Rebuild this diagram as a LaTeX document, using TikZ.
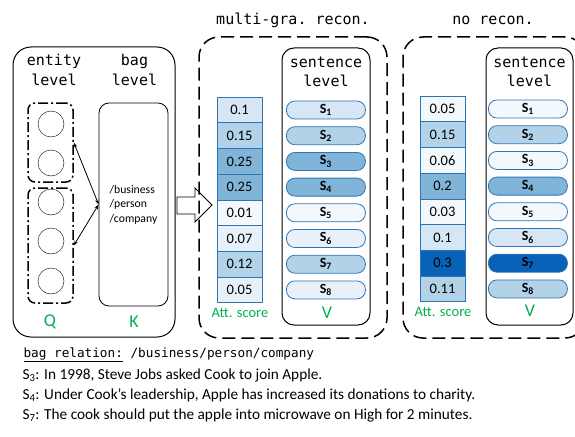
\documentclass[tikz,border=0pt]{standalone}
\usepackage{fontspec}
\setmainfont{Carlito}
\setmonofont{DejaVu Sans Mono}
\usepackage{tikz}
\usetikzlibrary{positioning}
\usetikzlibrary{arrows.meta}
\definecolor{green}{HTML}{00B050}
\definecolor{edge}{HTML}{2E75B6}
\definecolor{att0}{HTML}{F3F8FD}
\definecolor{att1}{HTML}{E8F1FA}
\definecolor{att2}{HTML}{D6E6F4}
\definecolor{att3}{HTML}{B2D2E8}
\definecolor{att4}{HTML}{80B5D9}
\definecolor{att5}{HTML}{0A62B8}

\begin{document}
\begin{tikzpicture}[x=1pt,y=-1pt]
      \tikzstyle cell=[draw=edge, line width=0.8pt, minimum width=45pt,
      minimum height=25.7pt, inner sep=0pt, outer sep=0pt,
      font=\fontsize{14.5}{16}\selectfont]
      \tikzstyle pill=[draw=edge, line width=0.8pt, rounded corners=8.5pt,
      minimum width=79pt, minimum height=18pt, inner sep=0pt,
      font=\fontsize{14}{14}\bfseries\selectfont]
      \tikzstyle mono=[font=\fontsize{15}{19.5}\ttfamily\selectfont, align=center]
      \tikzstyle big=[font=\fontsize{18}{20}\selectfont, green]
      \tikzstyle small=[font=\fontsize{14.5}{16}\selectfont, green]
      \tikzstyle line=[font=\fontsize{15.3}{17}\selectfont, anchor=west]
      \tikzstyle group=[draw, line width=1.5pt, rounded corners=7pt,
      dash pattern=on 10pt off 3pt on 2pt off 3pt, minimum width=45pt]
      \tikzstyle outer=[draw, line width=1.5pt, rounded corners=20pt,
      dash pattern=on 13pt off 6pt]
      \tikzstyle sent=[draw, line width=1pt, rounded corners=12pt, minimum height=277pt]
      \useasboundingbox (0,0) rectangle (575,436);
      % left part: entity and bag level
      \node [draw, line width=1pt, rounded corners=18pt, minimum width=162pt,
      minimum height=290pt] (lbox) at (94,192) {};
      \node [mono] (ent) at (54,70) {entity\\level};
      \node [mono] (bg) at (134.5,70) {bag\\level};
      \node [draw, circle, minimum size=26pt] (e1) at (51,124) {};
      \node [draw, circle, minimum size=26pt] (e2) at (51,163) {};
      \node [draw, circle, minimum size=26pt] (e3) at (51,202) {};
      \node [draw, circle, minimum size=26pt] (e4) at (51,241) {};
      \node [draw, circle, minimum size=26pt] (e5) at (51,281) {};
      \node [group, minimum height=79pt] (g1) at (50.5,142.5) {};
      \node [group, minimum height=115pt] (g2) at (50.5,245.5) {};
      \node [draw, line width=0.8pt, rounded corners=10pt, minimum width=69pt,
      minimum height=203pt, align=left, font=\fontsize{11.7}{14.5}\selectfont]
      (bag) at (133.5,204.5) {/business\\/person\\/company};
      \draw [{Stealth[length=5pt,width=3.5pt]}-{Stealth[length=5pt,width=3.5pt]}, line width=0.8pt] (g1.east) -- (bag.west);
      \draw [{Stealth[length=5pt,width=3.5pt]}-{Stealth[length=5pt,width=3.5pt]}, line width=0.8pt] (g2.east) -- (bag.west);
      \node [big] (q) at (50,322) {Q};
      \node [big] (k) at (134,322) {K};
      \draw [line width=0.8pt, fill=white] (177,197) -- (195,197) -- (195,188)
      -- (212,205) -- (195,222) -- (195,214) -- (177,214) -- cycle;
      % middle part: multi-gra. recon.
      \node [outer, minimum width=188pt, minimum height=301pt] (mbox) at (293,187.5) {};
      \node [mono] (mtitle) at (293,20) {multi-gra. recon.};
      \node [sent, minimum width=88pt] (msent) at (326,186.5) {};
      \node [mono] (mlevel) at (326,72) {sentence\\level};
      \node [cell, fill=att2] (m1) at (239.5,110) {0.1};
      \node [cell, fill=att3, below=0pt of m1] (m2) {0.15};
      \node [cell, fill=att4, below=0pt of m2] (m3) {0.25};
      \node [cell, fill=att4, below=0pt of m3] (m4) {0.25};
      \node [cell, fill=att0, below=0pt of m4] (m5) {0.01};
      \node [cell, fill=att1, below=0pt of m5] (m6) {0.07};
      \node [cell, fill=att3, below=0pt of m6] (m7) {0.12};
      \node [cell, fill=att1, below=0pt of m7] (m8) {0.05};
      \node [pill, fill=att2, right=24pt of m1] (ms1) {S\textsubscript{1}};
      \node [pill, fill=att3, right=24pt of m2] (ms2) {S\textsubscript{2}};
      \node [pill, fill=att4, right=24pt of m3] (ms3) {S\textsubscript{3}};
      \node [pill, fill=att4, right=24pt of m4] (ms4) {S\textsubscript{4}};
      \node [pill, fill=att0, right=24pt of m5] (ms5) {S\textsubscript{5}};
      \node [pill, fill=att1, right=24pt of m6] (ms6) {S\textsubscript{6}};
      \node [pill, fill=att3, right=24pt of m7] (ms7) {S\textsubscript{7}};
      \node [pill, fill=att1, right=24pt of m8] (ms8) {S\textsubscript{8}};
      \node [small] (matt) at (240,313) {Att. score};
      \node [big] (mv) at (327,313) {V};
      % right part: no recon.
      \node [outer, minimum width=182pt, minimum height=301pt] (rbox) at (494,187.5) {};
      \node [mono] (rtitle) at (493,20) {no recon.};
      \node [sent, minimum width=87pt] (rsent) at (529.5,186.5) {};
      \node [mono] (rlevel) at (529.5,72) {sentence\\level};
      \node [cell, fill=att0] (r1) at (442.5,109) {0.05};
      \node [cell, fill=att3, below=0pt of r1] (r2) {0.15};
      \node [cell, fill=att0, below=0pt of r2] (r3) {0.06};
      \node [cell, fill=att4, below=0pt of r3] (r4) {0.2};
      \node [cell, fill=att0, below=0pt of r4] (r5) {0.03};
      \node [cell, fill=att2, below=0pt of r5] (r6) {0.1};
      \node [cell, fill=att5, below=0pt of r6] (r7) {0.3};
      \node [cell, fill=att3, below=0pt of r7] (r8) {0.11};
      \node [pill, fill=att0, right=23pt of r1] (rs1) {S\textsubscript{1}};
      \node [pill, fill=att3, right=23pt of r2] (rs2) {S\textsubscript{2}};
      \node [pill, fill=att0, right=23pt of r3] (rs3) {S\textsubscript{3}};
      \node [pill, fill=att4, right=23pt of r4] (rs4) {S\textsubscript{4}};
      \node [pill, fill=att0, right=23pt of r5] (rs5) {S\textsubscript{5}};
      \node [pill, fill=att2, right=23pt of r6] (rs6) {S\textsubscript{6}};
      \node [pill, fill=att5, right=23pt of r7] (rs7) {S\textsubscript{7}};
      \node [pill, fill=att3, right=23pt of r8] (rs8) {S\textsubscript{8}};
      \node [small] (ratt) at (443,312) {Att. score};
      \node [big] (rv) at (530,311) {V};
      % sentences below
      \node [anchor=west, font=\fontsize{12.7}{14}\ttfamily\selectfont] (rel) at (20,355)
      {\underline{bag relation:} /business/person/company};
      \node [line] (s3) at (19,375) {S\textsubscript{3}: In 1998, Steve Jobs asked Cook to join Apple.};
      \node [line] (s4) at (19,395) {S\textsubscript{4}: Under Cook’s leadership, Apple has increased its donations to charity.};
      \node [line] (s7) at (19,415) {S\textsubscript{7}: The cook should put the apple into microwave on High for 2 minutes.};
    \end{tikzpicture}
\end{document}
